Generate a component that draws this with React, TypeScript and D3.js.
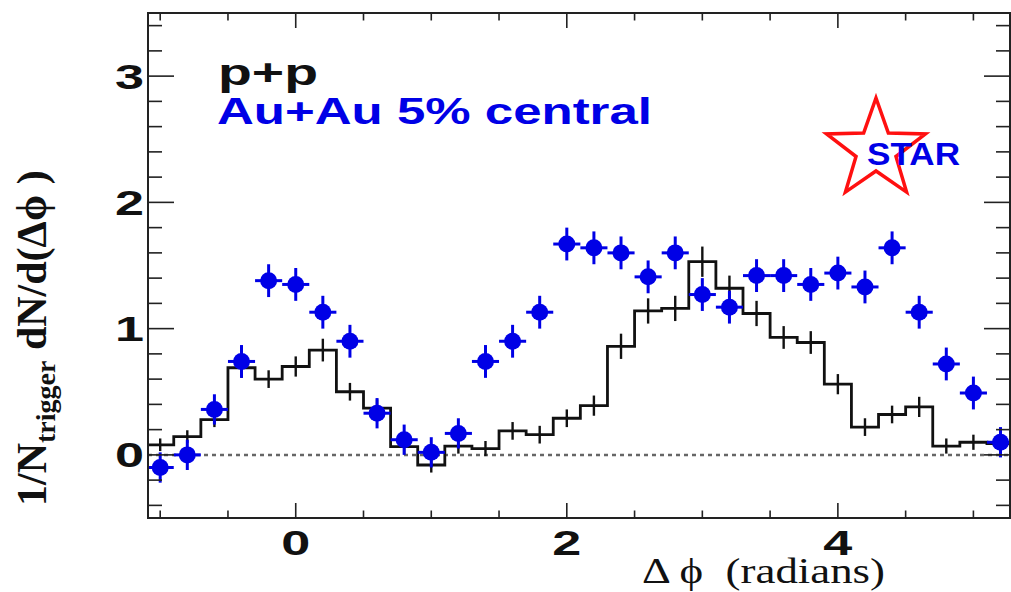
import * as d3 from 'd3';

// bin centres of the delta-phi histogram (radians)
const phiBins = [
  -1.0, -0.8, -0.6, -0.4, -0.2, 0.0, 0.2, 0.4, 0.6, 0.8, 1.0, 1.2, 1.4, 1.6, 1.8, 2.0,
  2.2, 2.4, 2.6, 2.8, 3.0, 3.2, 3.4, 3.6, 3.8, 4.0, 4.2, 4.4, 4.6, 4.8, 5.0, 5.2,
];

// p+p reference (black histogram)
const ppValues = [
  0.08, 0.145, 0.28, 0.69, 0.60, 0.70, 0.83, 0.50, 0.37, 0.066, -0.08, 0.07, 0.05, 0.19, 0.16, 0.29,
  0.39, 0.86, 1.14, 1.16, 1.53, 1.32, 1.12, 0.93, 0.89, 0.56, 0.22, 0.32, 0.38, 0.07, 0.10, 0.09,
];
const ppErrors = [
  0.05, 0.05, 0.06, 0.08, 0.07, 0.08, 0.09, 0.07, 0.07, 0.06, 0.06, 0.06, 0.06, 0.07, 0.07, 0.07,
  0.08, 0.10, 0.10, 0.10, 0.12, 0.10, 0.10, 0.09, 0.09, 0.08, 0.07, 0.07, 0.08, 0.06, 0.06, 0.06,
];

// Au+Au 5% central (blue points)
const auauValues = [
  -0.10, 0.00, 0.36, 0.74, 1.38, 1.35, 1.13, 0.90, 0.33, 0.12, 0.02, 0.17, 0.74, 0.90, 1.13, 1.67,
  1.64, 1.60, 1.41, 1.60, 1.27, 1.17, 1.42, 1.42, 1.35, 1.44, 1.33, 1.64, 1.13, 0.72, 0.49, 0.10,
];
const auauErrors = [
  0.12, 0.12, 0.12, 0.13, 0.13, 0.13, 0.13, 0.13, 0.12, 0.12, 0.12, 0.12, 0.13, 0.13, 0.13, 0.13,
  0.13, 0.13, 0.13, 0.13, 0.13, 0.13, 0.13, 0.13, 0.13, 0.13, 0.13, 0.13, 0.13, 0.13, 0.13, 0.12,
];

const xTickLabels = [0, 2, 4];
const yTickLabels = [0, 1, 2, 3];
const binHalf = 0.1;

const W = 1011;
const H = 592;
const blue = '#0000e6';

const App = () => {
  const x = d3.scaleLinear().domain([-1.09, 5.27]).range([148, 1010]);
  const y = d3.scaleLinear().domain([-0.5, 3.5]).range([518, 13]);

  const [x0, x1] = x.range();
  const [y0, y1] = y.range(); // y0 bottom, y1 top

  const xMinor = d3.range(-1, 5.01, 0.5).filter(v => !xTickLabels.includes(v));
  const yMinor = d3.range(-0.4, 3.41, 0.2).filter(v => !yTickLabels.some(t => Math.abs(t - v) < 1e-6));

  // step outline of the p+p histogram
  const stepPts: [number, number][] = [];
  phiBins.forEach((c, i) => {
    stepPts.push([c - binHalf, ppValues[i]]);
    stepPts.push([c + binHalf, ppValues[i]]);
  });
  const stepLine = d3.line<[number, number]>()
    .x(d => x(d[0]))
    .y(d => y(d[1]));

  // STAR logo star outline
  const cx = 876, cy = 150, R = 52, r = 21;
  const starPts: [number, number][] = d3.range(10).map(k => {
    const a = -Math.PI / 2 + (k * Math.PI) / 5;
    const rr = k % 2 === 0 ? R : r;
    return [cx + rr * Math.cos(a), cy + rr * Math.sin(a)];
  });
  const starPath = d3.line()(starPts) + 'Z';

  const sans = '"Liberation Sans", Arial, sans-serif';
  const serif = '"Liberation Serif", "Times New Roman", serif';

  return (
    <svg width={W} height={H} style={{ position: 'absolute', left: 0, top: 0, background: '#fff' }}>
      <defs>
        <clipPath id="frame">
          <rect x={x0} y={y1} width={x1 - x0} height={y0 - y1} />
        </clipPath>
      </defs>

      {/* zero line */}
      <line x1={x0} x2={x1} y1={y(0)} y2={y(0)} stroke="#666" strokeWidth={2.5} strokeDasharray="4 4" />

      <g clipPath="url(#frame)">
        {/* p+p histogram */}
        <path d={stepLine(stepPts) || ''} fill="none" stroke="#111" strokeWidth={2.8} />
        {phiBins.map((c, i) => (
          <line key={'pe' + i} x1={x(c)} x2={x(c)} y1={y(ppValues[i] - ppErrors[i])} y2={y(ppValues[i] + ppErrors[i])}
            stroke="#111" strokeWidth={2.4} />
        ))}

        {/* Au+Au points */}
        {phiBins.map((c, i) => (
          <g key={'au' + i} stroke={blue} strokeWidth={3}>
            <line x1={x(c)} x2={x(c)} y1={y(auauValues[i] - auauErrors[i])} y2={y(auauValues[i] + auauErrors[i])} />
            <line x1={x(c - binHalf)} x2={x(c + binHalf)} y1={y(auauValues[i])} y2={y(auauValues[i])} />
            <circle cx={x(c)} cy={y(auauValues[i])} r={8.5} fill={blue} stroke="none" />
          </g>
        ))}
      </g>

      {/* frame and ticks */}
      <rect x={x0} y={y1} width={x1 - x0} height={y0 - y1} fill="none" stroke="#222" strokeWidth={2} />
      <g stroke="#222" strokeWidth={1.6}>
        {xTickLabels.map(v => (
          <g key={'xM' + v}>
            <line x1={x(v)} x2={x(v)} y1={y0} y2={y0 - 15} />
            <line x1={x(v)} x2={x(v)} y1={y1} y2={y1 + 15} />
          </g>
        ))}
        {xMinor.map(v => (
          <g key={'xm' + v}>
            <line x1={x(v)} x2={x(v)} y1={y0} y2={y0 - 7.5} />
            <line x1={x(v)} x2={x(v)} y1={y1} y2={y1 + 7.5} />
          </g>
        ))}
        {yTickLabels.map(v => (
          <g key={'yM' + v}>
            <line x1={x0} x2={x0 + 26} y1={y(v)} y2={y(v)} />
            <line x1={x1} x2={x1 - 26} y1={y(v)} y2={y(v)} />
          </g>
        ))}
        {yMinor.map(v => (
          <g key={'ym' + v}>
            <line x1={x0} x2={x0 + 14} y1={y(v)} y2={y(v)} />
            <line x1={x1} x2={x1 - 14} y1={y(v)} y2={y(v)} />
          </g>
        ))}
      </g>

      {/* tick labels */}
      <g fontFamily={sans} fontWeight="bold" fontSize={35} fill="#111">
        {yTickLabels.map(v => (
          <text key={'yl' + v} x={x0 - 4 - 29} y={y(v) + 12.5} textLength={29} lengthAdjust="spacingAndGlyphs">{v}</text>
        ))}
        {xTickLabels.map(v => (
          <text key={'xl' + v} x={x(v) - 14.5} y={555} textLength={29} lengthAdjust="spacingAndGlyphs">{v}</text>
        ))}
      </g>

      {/* axis titles */}
      <text x={642} y={583} fontFamily={serif} fontSize={36} fill="#111" style={{ whiteSpace: 'pre' }}
        textLength={243} lengthAdjust="spacingAndGlyphs">{'Δ ϕ  (radians)'}</text>

      <text transform="translate(46, 506) rotate(-90)" fontFamily={serif} fontWeight="bold" fontSize={42} fill="#111">
        1/N<tspan fontSize={28} dy={9}>trigger</tspan><tspan dy={-9}>{' dN/d(Δϕ )'}</tspan>
      </text>

      {/* legend */}
      <text x={218} y={85} fontFamily={sans} fontWeight="bold" fontSize={37} fill="#111"
        textLength={100} lengthAdjust="spacingAndGlyphs">p+p</text>
      <text x={217} y={124} fontFamily={sans} fontWeight="bold" fontSize={37} fill={blue}
        textLength={435} lengthAdjust="spacingAndGlyphs">Au+Au 5% central</text>

      {/* STAR logo */}
      <path d={starPath} fill="none" stroke="#ff1010" strokeWidth={3.5} strokeLinejoin="miter" />
      <text x={867} y={165} fontFamily={sans} fontWeight="bold" fontSize={31} fill={blue}
        textLength={93} lengthAdjust="spacingAndGlyphs">STAR</text>
    </svg>
  );
};

export default App;
